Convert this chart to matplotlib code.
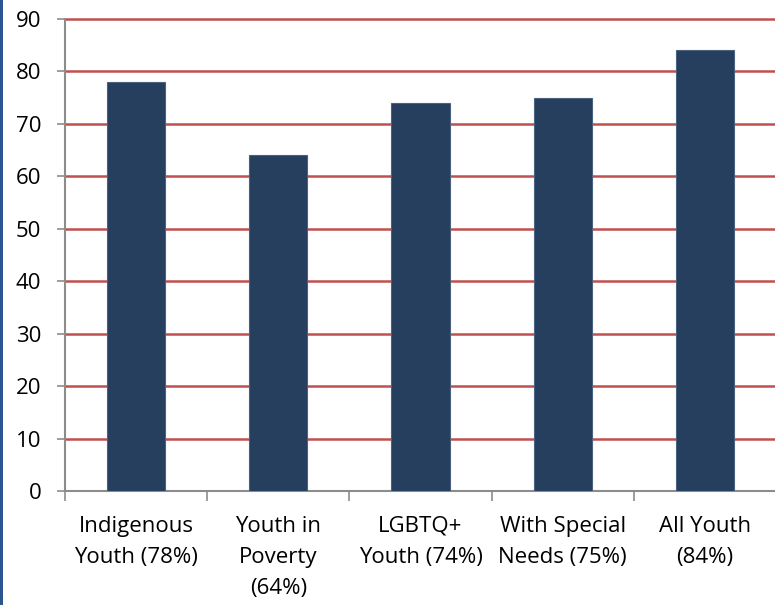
import matplotlib

matplotlib.use("Agg")

import matplotlib.pyplot as plt
import numpy as np
from matplotlib.patches import Rectangle
from matplotlib.ticker import FixedLocator, NullFormatter

categories = [
    "Indigenous\nYouth (78%)",
    "Youth in\nPoverty\n(64%)",
    "LGBTQ+\nYouth (74%)",
    "With Special\nNeeds (75%)",
    "All Youth\n(84%)",
]
values = [78, 64, 74, 75, 84]
y_ticks = [0, 10, 20, 30, 40, 50, 60, 70, 80, 90]

BAR_COLOR = "#263f5f"
GRID_COLOR = "#c0504d"
AXIS_COLOR = "#8c8c8c"

plt.rcParams["font.family"] = ["Open Sans", "DejaVu Sans"]

fig = plt.figure(figsize=(7.75, 6.05), dpi=100)
W, H = 775, 605
ax = fig.add_axes([65 / W, 1 - 491 / H, (776 - 65) / W, (491 - 19) / H])

x = np.arange(len(values))
ax.bar(x, values, width=0.41, color=BAR_COLOR, edgecolor="#4a6180",
       linewidth=0.8, zorder=3)

ax.set_xlim(-0.5, len(values) - 0.5)
ax.set_ylim(0, 90)
ax.set_yticks(y_ticks)
ax.tick_params(axis="y", labelsize=16, length=6, width=1.2, color=AXIS_COLOR,
               pad=11, labelcolor="black")

for v in y_ticks[1:]:
    ax.axhline(v, color=GRID_COLOR, linewidth=1.8, zorder=1, clip_on=False)

# category labels centred under bars, ticks at category boundaries
ax.xaxis.set_major_locator(FixedLocator(np.arange(-0.5, len(values), 1.0)))
ax.xaxis.set_major_formatter(NullFormatter())
ax.tick_params(axis="x", length=7, width=1.2, color=AXIS_COLOR)
for xi, lab in zip(x, categories):
    ax.text(xi, -4.7, lab, ha="center", va="top", fontsize=16,
            linespacing=1.65, transform=ax.transData)

for side in ["top", "right"]:
    ax.spines[side].set_visible(False)
for side in ["left", "bottom"]:
    ax.spines[side].set_color(AXIS_COLOR)
    ax.spines[side].set_linewidth(1.5)

# thin blue strip along the left edge
fig.patches.append(Rectangle((0, 0), 3 / W, 1, transform=fig.transFigure,
                             facecolor="#2a5590", edgecolor="none"))

fig.savefig("out.png", dpi=100)
